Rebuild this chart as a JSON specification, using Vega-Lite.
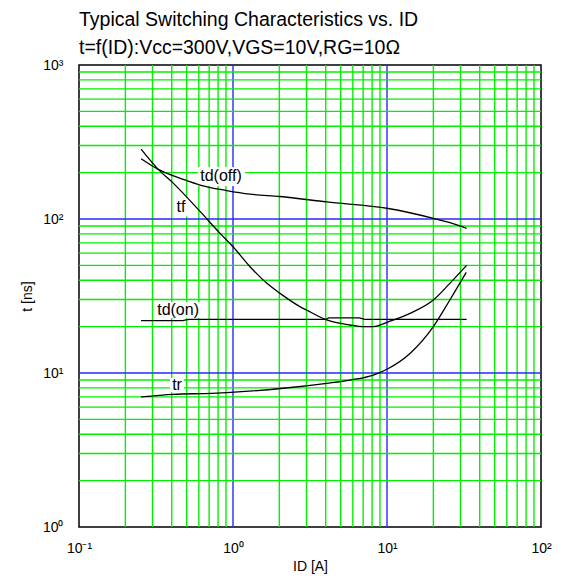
{
  "$schema": "https://vega.github.io/schema/vega-lite/v6.json",
  "width": 462,
  "height": 462,
  "autosize": "none",
  "padding": {"left": 79, "top": 65, "right": 24, "bottom": 52},
  "background": "white",
  "title": {
    "text": ["Typical Switching Characteristics vs. ID", "t=f(ID):Vcc=300V,VGS=10V,RG=10Ω"],
    "anchor": "start",
    "frame": "group",
    "fontSize": 19.5,
    "font": "Liberation Sans",
    "fontWeight": "normal",
    "lineHeight": 28,
    "offset": 0,
    "color": "black"
  },
  "config": {
    "view": {"stroke": "black", "strokeWidth": 1.5},
    "font": "Liberation Sans",
    "axis": {"grid": false, "ticks": false, "domain": false},
    "axisX": {
      "titleFont": "Liberation Sans",
      "titleFontSize": 14,
      "titleFontWeight": "normal",
      "titleColor": "black",
      "titlePadding": 4,
      "labelFont": "Liberation Sans",
      "labelFontSize": 14,
      "labelColor": "black",
      "labelPadding": 14,
      "labelFlush": false,
      "labelOverlap": false
    },
    "axisY": {
      "titleFont": "Liberation Sans",
      "titleFontSize": 14,
      "titleFontWeight": "normal",
      "titleColor": "black",
      "titlePadding": 8,
      "labelFont": "Liberation Sans",
      "labelFontSize": 14,
      "labelColor": "black",
      "labelPadding": 16,
      "labelFlush": false,
      "labelOverlap": false,
      "labelBaseline": "middle"
    }
  },
  "datasets": {
    "vgrid": [
      {"id": 0.2, "kind": "minor"}, {"id": 0.3, "kind": "minor"}, {"id": 0.4, "kind": "minor"}, {"id": 0.5, "kind": "minor"},
      {"id": 0.6, "kind": "minor"}, {"id": 0.7, "kind": "minor"}, {"id": 0.8, "kind": "minor"}, {"id": 0.9, "kind": "minor"},
      {"id": 2, "kind": "minor"}, {"id": 3, "kind": "minor"}, {"id": 4, "kind": "minor"}, {"id": 5, "kind": "minor"},
      {"id": 6, "kind": "minor"}, {"id": 7, "kind": "minor"}, {"id": 8, "kind": "minor"}, {"id": 9, "kind": "minor"},
      {"id": 20, "kind": "minor"}, {"id": 30, "kind": "minor"}, {"id": 40, "kind": "minor"}, {"id": 50, "kind": "minor"},
      {"id": 60, "kind": "minor"}, {"id": 70, "kind": "minor"}, {"id": 80, "kind": "minor"}, {"id": 90, "kind": "minor"},
      {"id": 1, "kind": "major"}, {"id": 10, "kind": "major"}
    ],
    "hgrid": [
      {"t": 2, "kind": "minor"}, {"t": 3, "kind": "minor"}, {"t": 4, "kind": "minor"}, {"t": 5, "kind": "minor"},
      {"t": 6, "kind": "minor"}, {"t": 7, "kind": "minor"}, {"t": 8, "kind": "minor"}, {"t": 9, "kind": "minor"},
      {"t": 20, "kind": "minor"}, {"t": 30, "kind": "minor"}, {"t": 40, "kind": "minor"}, {"t": 50, "kind": "minor"},
      {"t": 60, "kind": "minor"}, {"t": 70, "kind": "minor"}, {"t": 80, "kind": "minor"}, {"t": 90, "kind": "minor"},
      {"t": 200, "kind": "minor"}, {"t": 300, "kind": "minor"}, {"t": 400, "kind": "minor"}, {"t": 500, "kind": "minor"},
      {"t": 600, "kind": "minor"}, {"t": 700, "kind": "minor"}, {"t": 800, "kind": "minor"}, {"t": 900, "kind": "minor"},
      {"t": 10, "kind": "major"}, {"t": 100, "kind": "major"}
    ],
    "curves": [
      {"series": "td(off)", "id": 0.253, "t": 246},
      {"series": "td(off)", "id": 0.327, "t": 210},
      {"series": "td(off)", "id": 0.475, "t": 181},
      {"series": "td(off)", "id": 0.611, "t": 166},
      {"series": "td(off)", "id": 0.91, "t": 153},
      {"series": "td(off)", "id": 1.29, "t": 145},
      {"series": "td(off)", "id": 2.02, "t": 140},
      {"series": "td(off)", "id": 4.06, "t": 129},
      {"series": "td(off)", "id": 10.2, "t": 117},
      {"series": "td(off)", "id": 20, "t": 101},
      {"series": "td(off)", "id": 25.6, "t": 94.6},
      {"series": "td(off)", "id": 32.9, "t": 87},
      {"series": "tf", "id": 0.253, "t": 284},
      {"series": "tf", "id": 0.327, "t": 210},
      {"series": "tf", "id": 0.409, "t": 171},
      {"series": "tf", "id": 0.611, "t": 112},
      {"series": "tf", "id": 0.824, "t": 80.7},
      {"series": "tf", "id": 1.0, "t": 66},
      {"series": "tf", "id": 1.29, "t": 49},
      {"series": "tf", "id": 1.66, "t": 38.2},
      {"series": "tf", "id": 2.02, "t": 32.9},
      {"series": "tf", "id": 2.72, "t": 27},
      {"series": "tf", "id": 3.01, "t": 25.6},
      {"series": "tf", "id": 4.06, "t": 22.1},
      {"series": "tf", "id": 5.75, "t": 20.5},
      {"series": "tf", "id": 7.02, "t": 20.0},
      {"series": "tf", "id": 8.15, "t": 20.0},
      {"series": "tf", "id": 10.2, "t": 21.5},
      {"series": "tf", "id": 14.1, "t": 24.4},
      {"series": "tf", "id": 20, "t": 29.8},
      {"series": "tf", "id": 25.6, "t": 38.2},
      {"series": "tf", "id": 32.9, "t": 50},
      {"series": "td(on)", "id": 0.253, "t": 21.9},
      {"series": "td(on)", "id": 0.47, "t": 21.9},
      {"series": "td(on)", "id": 0.52, "t": 22.3},
      {"series": "td(on)", "id": 4.0, "t": 22.3},
      {"series": "td(on)", "id": 4.2, "t": 22.8},
      {"series": "td(on)", "id": 6.6, "t": 22.8},
      {"series": "td(on)", "id": 7.2, "t": 22.3},
      {"series": "td(on)", "id": 32.9, "t": 22.3},
      {"series": "tr", "id": 0.253, "t": 7.0},
      {"series": "tr", "id": 0.409, "t": 7.27},
      {"series": "tr", "id": 0.727, "t": 7.38},
      {"series": "tr", "id": 1.14, "t": 7.56},
      {"series": "tr", "id": 2.12, "t": 7.96},
      {"series": "tr", "id": 4.06, "t": 8.57},
      {"series": "tr", "id": 5.75, "t": 9.0},
      {"series": "tr", "id": 8.15, "t": 9.7},
      {"series": "tr", "id": 10.2, "t": 10.7},
      {"series": "tr", "id": 14.1, "t": 13.4},
      {"series": "tr", "id": 20, "t": 20},
      {"series": "tr", "id": 25.6, "t": 29.8},
      {"series": "tr", "id": 32.7, "t": 45}
    ],
    "labels": [
      {"label": "td(off)", "id": 0.836, "t": 190, "id2": 0.593, "id3": 1.197, "t2": 218, "t3": 164},
      {"label": "tf", "id": 0.459, "t": 120, "id2": 0.414, "id3": 0.518, "t2": 137, "t3": 104},
      {"label": "td(on)", "id": 0.44, "t": 25.6, "id2": 0.312, "id3": 0.62, "t2": 28.9, "t3": 22.8},
      {"label": "tr", "id": 0.433, "t": 8.36, "id2": 0.39, "id3": 0.481, "t2": 9.29, "t3": 7.5}
    ]
  },
  "layer": [
    {
      "data": {"name": "vgrid"},
      "mark": {"type": "rule", "strokeWidth": 1.4},
      "encoding": {
        "x": {"field": "id", "type": "quantitative", "scale": {"type": "log", "domain": [0.1, 100], "nice": false},
              "axis": {"title": "ID [A]", "values": [0.1, 1, 10, 100], "labelExpr": "datum.value == 0.1 ? '10⁻¹' : datum.value == 1 ? '10⁰' : datum.value == 10 ? '10¹' : '10²'"}},
        "color": {"field": "kind", "type": "nominal", "scale": {"domain": ["minor", "major"], "range": ["#00f000", "#2828ff"]}, "legend": null}
      }
    },
    {
      "data": {"name": "hgrid"},
      "mark": {"type": "rule", "strokeWidth": 1.4},
      "encoding": {
        "y": {"field": "t", "type": "quantitative", "scale": {"type": "log", "domain": [1, 1000], "nice": false},
              "axis": {"title": "t [ns]", "values": [1, 10, 100, 1000], "labelExpr": "datum.value == 1 ? '10⁰' : datum.value == 10 ? '10¹' : datum.value == 100 ? '10²' : '10³'"}},
        "color": {"field": "kind", "type": "nominal", "scale": {"domain": ["minor", "major"], "range": ["#00f000", "#2828ff"]}, "legend": null}
      }
    },
    {
      "data": {"name": "labels"},
      "mark": {"type": "rect", "color": "white"},
      "encoding": {
        "x": {"field": "id2", "type": "quantitative", "scale": {"type": "log", "domain": [0.1, 100], "nice": false},
              "axis": {"title": "ID [A]", "values": [0.1, 1, 10, 100], "labelExpr": "datum.value == 0.1 ? '10⁻¹' : datum.value == 1 ? '10⁰' : datum.value == 10 ? '10¹' : '10²'"}},
        "x2": {"field": "id3"},
        "y": {"field": "t2", "type": "quantitative", "scale": {"type": "log", "domain": [1, 1000], "nice": false},
              "axis": {"title": "t [ns]", "values": [1, 10, 100, 1000], "labelExpr": "datum.value == 1 ? '10⁰' : datum.value == 10 ? '10¹' : datum.value == 100 ? '10²' : '10³'"}},
        "y2": {"field": "t3"}
      }
    },
    {
      "data": {"name": "curves"},
      "mark": {"type": "line", "color": "black", "strokeWidth": 1.3, "interpolate": "monotone", "clip": true},
      "encoding": {
        "x": {"field": "id", "type": "quantitative", "scale": {"type": "log", "domain": [0.1, 100], "nice": false},
              "axis": {"title": "ID [A]", "values": [0.1, 1, 10, 100], "labelExpr": "datum.value == 0.1 ? '10⁻¹' : datum.value == 1 ? '10⁰' : datum.value == 10 ? '10¹' : '10²'"}},
        "y": {"field": "t", "type": "quantitative", "scale": {"type": "log", "domain": [1, 1000], "nice": false},
              "axis": {"title": "t [ns]", "values": [1, 10, 100, 1000], "labelExpr": "datum.value == 1 ? '10⁰' : datum.value == 10 ? '10¹' : datum.value == 100 ? '10²' : '10³'"}},
        "detail": {"field": "series"}
      }
    },
    {
      "data": {"name": "labels"},
      "mark": {"type": "text", "color": "black", "fontSize": 16, "font": "Liberation Sans", "align": "center", "baseline": "middle"},
      "encoding": {
        "x": {"field": "id", "type": "quantitative", "scale": {"type": "log", "domain": [0.1, 100], "nice": false},
              "axis": {"title": "ID [A]", "values": [0.1, 1, 10, 100], "labelExpr": "datum.value == 0.1 ? '10⁻¹' : datum.value == 1 ? '10⁰' : datum.value == 10 ? '10¹' : '10²'"}},
        "y": {"field": "t", "type": "quantitative", "scale": {"type": "log", "domain": [1, 1000], "nice": false},
              "axis": {"title": "t [ns]", "values": [1, 10, 100, 1000], "labelExpr": "datum.value == 1 ? '10⁰' : datum.value == 10 ? '10¹' : datum.value == 100 ? '10²' : '10³'"}},
        "text": {"field": "label"}
      }
    }
  ]
}
